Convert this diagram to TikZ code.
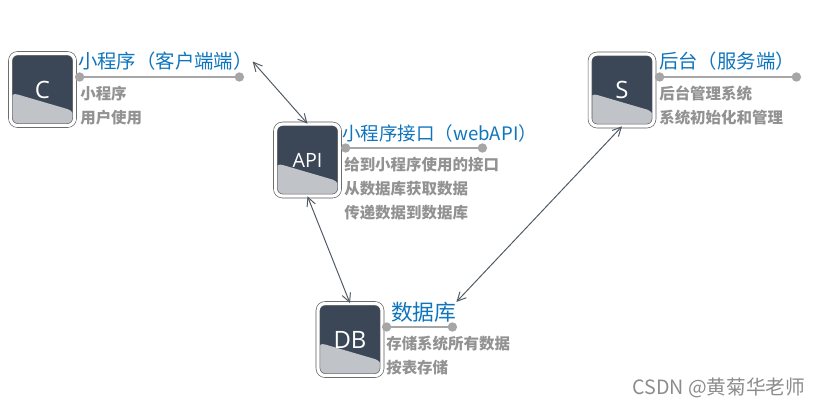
\documentclass[tikz,border=0pt]{standalone}
\usepackage{fontspec}
\setmainfont{Noto Sans CJK SC}
\newfontfamily\iconfont{Open Sans}
\usetikzlibrary{arrows.meta,calc}
\definecolor{icondark}{HTML}{3B4656}
\definecolor{iconlight}{HTML}{C0C3C8}
\definecolor{titleblue}{HTML}{0F75BD}
\definecolor{rulegray}{HTML}{A6A6A6}
\definecolor{notegray}{HTML}{929292}
\definecolor{linkgray}{HTML}{505A64}

\begin{document}
\begin{tikzpicture}[
  x=0.025cm,y=-0.025cm,
  icon/.style={draw=black!65, double=white, double distance=2.3pt, line width=0.45pt,
    rounded corners=5pt, fill=icondark, minimum width=1.6cm, minimum height=1.8cm,
    inner sep=0pt, text=white, font=\iconfont\fontsize{17}{20}\selectfont,
    path picture={\fill[iconlight]
      ($(path picture bounding box.north west)!0.54!(path picture bounding box.south west)$)
      -- ($(path picture bounding box.north east)!0.80!(path picture bounding box.south east)$)
      -- (path picture bounding box.south east)
      -- (path picture bounding box.south west) -- cycle;}},
  title/.style={anchor=west, inner sep=0pt, outer sep=0pt, text=titleblue,
    font=\fontsize{13.8}{16}\selectfont},
  note/.style={anchor=north west, inner sep=0pt, align=left, text=notegray,
    font=\fontsize{11}{17}\selectfont\bfseries},
  rule/.style={{Circle[length=2.3mm]}-{Circle[length=2.3mm]}, line width=1.8pt, draw=rulegray},
  link/.style={{Straight Barb[length=2.2mm,width=2.2mm]}-{Straight Barb[length=2.2mm,width=2.2mm]},
    line width=0.7pt, draw=linkgray}
]
\useasboundingbox (0,0) rectangle (819,408);

% client
\node[icon] (client) at (42.5,89.5) {C};
\node[title] (clienttitle) at (78,61.5) {小程序（客户端端）};
\coordinate (clientruleL) at (75,77);
\coordinate (clientruleR) at (244,77);
\draw[rule] (clientruleL) -- (clientruleR);
\node[note] (clientnote) at (80,86) {小程序\\用户使用};

% api
\node[icon, font=\iconfont\fontsize{14}{20}\selectfont] (api) at (307.5,160) {API};
\node[title, font=\fontsize{13.2}{16}\selectfont] (apititle) at (342,133.5) {小程序接口（webAPI）};
\coordinate (apiruleL) at (341,148);
\coordinate (apiruleR) at (487,148);
\draw[rule] (apiruleL) -- (apiruleR);
\node[note] (apinote) at (344,157) {给到小程序使用的接口\\从数据库获取数据\\传递数据到数据库};

% database
\node[icon] (db) at (350,339.5) {DB};
\node[title, font=\fontsize{15.5}{18}\selectfont] (dbtitle) at (391,312) {数据库};
\coordinate (dbruleL) at (382,327);
\coordinate (dbruleR) at (457,327);
\draw[rule] (dbruleL) -- (dbruleR);
\node[note] (dbnote) at (386,336) {存储系统所有数据\\按表存储};

% server
\node[icon] (server) at (622,90) {S};
\node[title] (servertitle) at (659,61.5) {后台（服务端）};
\coordinate (serverruleL) at (655,77);
\coordinate (serverruleR) at (801,77);
\draw[rule] (serverruleL) -- (serverruleR);
\node[note] (servernote) at (659,86) {后台管理系统\\系统初始化和管理};

\draw[link] (clienttitle.east) -- (api.north);
\draw[link] (api.south) -- (db.north);
\draw[link] (server.south) -- (dbtitle.north east);

\node[anchor=west, inner sep=0pt, text=black!45, font=\fontsize{14}{16}\selectfont]
  (mark) at (632,388) {CSDN @黄菊华老师};
\end{tikzpicture}
\end{document}
